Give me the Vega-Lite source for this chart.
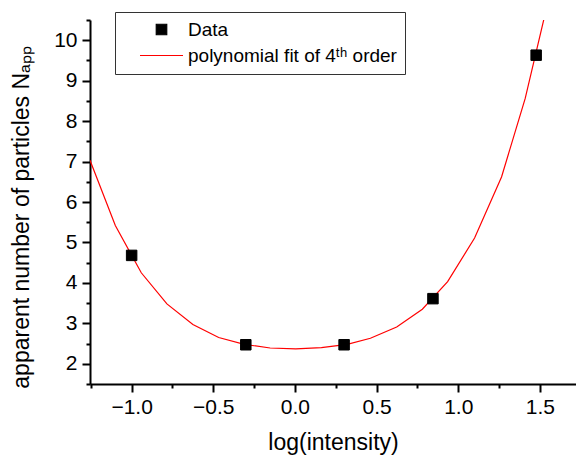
{
  "$schema": "https://vega.github.io/schema/vega-lite/v6.json",
  "width": 486,
  "height": 364,
  "autosize": {"type": "none"},
  "padding": {"left": 90, "top": 20, "right": 0, "bottom": 73},
  "background": "white",
  "config": {
    "view": {"stroke": null},
    "font": "Liberation Sans",
    "axis": {
      "grid": false,
      "domainColor": "black",
      "domainWidth": 2,
      "tickColor": "black",
      "tickWidth": 2,
      "labelFont": "Liberation Sans",
      "labelFontSize": 21,
      "labelColor": "black",
      "titleFont": "Liberation Sans",
      "titleFontSize": 23,
      "titleFontWeight": "normal",
      "titleColor": "black",
      "labelOverlap": false,
      "labelFlush": false
    }
  },
  "datasets": {
    "points": [
      {"x": -1.0, "y": 4.68, "series": "Data"},
      {"x": -0.301, "y": 2.47, "series": "Data"},
      {"x": 0.301, "y": 2.47, "series": "Data"},
      {"x": 0.845, "y": 3.61, "series": "Data"},
      {"x": 1.477, "y": 9.63, "series": "Data"}
    ],
    "fit": [
      {"x": -1.255, "y": 7.03},
      {"x": -1.1, "y": 5.42},
      {"x": -0.941, "y": 4.25},
      {"x": -0.784, "y": 3.48},
      {"x": -0.625, "y": 2.97},
      {"x": -0.467, "y": 2.65},
      {"x": -0.31, "y": 2.48},
      {"x": -0.152, "y": 2.39},
      {"x": 0.005, "y": 2.37},
      {"x": 0.162, "y": 2.4},
      {"x": 0.32, "y": 2.48},
      {"x": 0.462, "y": 2.63},
      {"x": 0.623, "y": 2.91},
      {"x": 0.78, "y": 3.35},
      {"x": 0.935, "y": 4.03},
      {"x": 1.1, "y": 5.11},
      {"x": 1.265, "y": 6.62},
      {"x": 1.41, "y": 8.56},
      {"x": 1.55, "y": 10.96}
    ]
  },
  "resolve": {"axis": {"y": "independent"}},
  "layer": [
    {
      "data": {"name": "fit"},
      "mark": {"type": "line", "color": "#ff0000", "strokeWidth": 1.2, "clip": true},
      "encoding": {
        "x": {
          "field": "x",
          "type": "quantitative",
          "scale": {"domain": [-1.255, 1.721], "nice": false, "zero": false},
          "axis": {
            "title": "log(intensity)",
            "values": [-1.25, -1, -0.75, -0.5, -0.25, 0, 0.25, 0.5, 0.75, 1, 1.25, 1.5],
            "labelExpr": "abs(datum.value*2 - round(datum.value*2)) < 0.01 ? format(datum.value, '.1f') : ''",
            "tickSize": {"condition": {"test": "abs(datum.value*2 - round(datum.value*2)) > 0.01", "value": 4}, "value": 8},
            "labelPadding": 4,
            "titlePadding": 14
          }
        },
        "y": {
          "field": "y",
          "type": "quantitative",
          "scale": {"domain": [1.5, 10.5], "nice": false, "zero": false},
          "axis": {
            "orient": "left",
            "title": "apparent number of particles Nₐₚₚ",
            "values": [2, 3, 4, 5, 6, 7, 8, 9, 10],
            "format": "d",
            "tickSize": 8,
            "labelPadding": 5,
            "titlePadding": 20,
            "titleY": 197
          }
        }
      }
    },
    {
      "data": {"name": "points"},
      "mark": {"type": "point", "filled": true, "opacity": 1, "strokeWidth": 1, "size": 110},
      "encoding": {
        "x": {"field": "x", "type": "quantitative"},
        "y": {
          "field": "y",
          "type": "quantitative",
          "axis": {
            "orient": "left",
            "title": null,
            "labels": false,
            "domain": false,
            "tickSize": 4,
            "values": [1.5, 2.5, 3.5, 4.5, 5.5, 6.5, 7.5, 8.5, 9.5, 10.5]
          }
        },
        "fill": {
          "field": "series",
          "type": "nominal",
          "scale": {"domain": ["Data", "polynomial fit of 4ᵗʰ order"], "range": ["black", "#ff0000"]},
          "legend": {
            "orient": "none",
            "legendX": 25,
            "legendY": -8,
            "title": null,
            "fillColor": "white",
            "strokeColor": "#333333",
            "padding": 8,
            "labelFont": "Liberation Sans",
            "labelFontSize": 19,
            "labelColor": "black",
            "labelOffset": 17,
            "symbolOffset": 29,
            "symbolSize": 110,
            "symbolStrokeWidth": 1.2,
            "rowPadding": 6,
            "labelLimit": 400,
            "labelExpr": "datum.label == 'Data' ? datum.label : datum.label + '\u2003'"
          }
        },
        "stroke": {
          "field": "series",
          "type": "nominal",
          "scale": {"domain": ["Data", "polynomial fit of 4ᵗʰ order"], "range": ["black", "#ff0000"]}
        },
        "shape": {
          "field": "series",
          "type": "nominal",
          "scale": {"domain": ["Data", "polynomial fit of 4ᵗʰ order"], "range": ["square", "M-4.1,0H4.1"]}
        }
      }
    }
  ]
}
